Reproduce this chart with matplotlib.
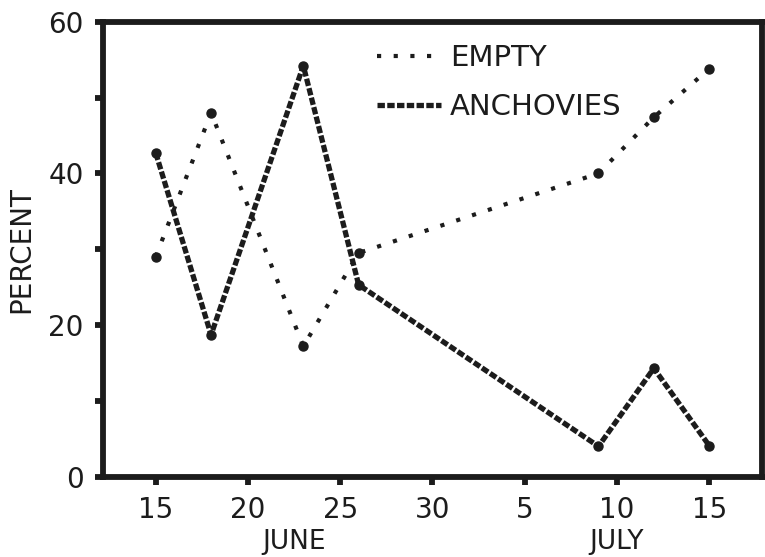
import matplotlib
matplotlib.use("Agg")
import matplotlib.pyplot as plt
import matplotlib.transforms as mtransforms
from matplotlib.lines import Line2D

# Day numbers: June days as-is, July days = 30 + day
days_empty = [15, 18, 23, 26, 39, 42, 45]
empty_pct = [29.0, 48.0, 17.2, 29.5, 40.0, 47.4, 53.8]
days_anch = [15, 18, 23, 26, 39, 42, 45]
anch_pct = [42.7, 18.7, 54.2, 25.3, 4.0, 14.3, 4.1]

xtick_pos = [15, 20, 25, 30, 35, 40, 45]
xtick_labels = ["15", "20", "25", "30", "5", "10", "15"]
ytick_pos = [0, 20, 40, 60]
ytick_labels = ["0", "20", "40", "60"]
month_labels = ["JUNE", "JULY"]
month_pos = [22.5, 40]

INK = "#1c1c1c"
plt.rcParams["font.family"] = ["DejaVu Sans"]

fig = plt.figure(figsize=(7.65, 5.57), dpi=100)
ax = fig.add_axes([0.1346, 0.1442, 0.996 - 0.1346, 0.961 - 0.1442])

ax.plot(days_empty, empty_pct, color=INK, lw=3.0, linestyle=(0, (1, 3)),
        dash_capstyle="butt", marker="o", ms=6.5, mfc=INK, mec=INK, zorder=3)
ax.plot(days_anch, anch_pct, color=INK, lw=3.8, linestyle=(0, (1.4, 0.45)),
        dash_capstyle="butt", marker="o", ms=6.5, mfc=INK, mec=INK, zorder=4)

ax.set_xlim(12.14, 47.86)
ax.set_ylim(0, 60)

ax.set_xticks(xtick_pos)
ax.set_xticklabels(xtick_labels)
ax.set_yticks(ytick_pos)
ax.set_yticklabels(ytick_labels)
ax.set_yticks([10, 30, 50], minor=True)

for sp in ax.spines.values():
    sp.set_linewidth(4.2)
    sp.set_color(INK)

ax.tick_params(axis="both", which="both", direction="out", width=4.2,
               color=INK, labelcolor=INK)
ax.tick_params(axis="x", which="major", length=6, pad=8, labelsize=20)
ax.tick_params(axis="y", which="major", length=6, pad=8, labelsize=20)
ax.tick_params(axis="y", which="minor", length=6)

ax.set_ylabel("PERCENT", fontsize=20, color=INK, labelpad=9)

trans = mtransforms.blended_transform_factory(ax.transData, ax.transAxes)
for lab, xp in zip(month_labels, month_pos):
    ax.text(xp, -0.143, lab, transform=trans, ha="center", va="center",
            fontsize=19, color=INK)

handles = [
    Line2D([], [], color=INK, lw=3.0, linestyle=(0, (1, 3)), dash_capstyle="butt"),
    Line2D([], [], color=INK, lw=3.8, linestyle=(0, (1.4, 0.45)), dash_capstyle="butt"),
]
leg = ax.legend(handles, ["EMPTY", "ANCHOVIES"], loc="upper left",
                bbox_to_anchor=(0.416, 0.951), frameon=False, fontsize=21,
                handlelength=2.2, handletextpad=0.3, labelspacing=0.72,
                borderpad=0, borderaxespad=0)
for t in leg.get_texts():
    t.set_color(INK)

fig.savefig("out.png", dpi=100)
